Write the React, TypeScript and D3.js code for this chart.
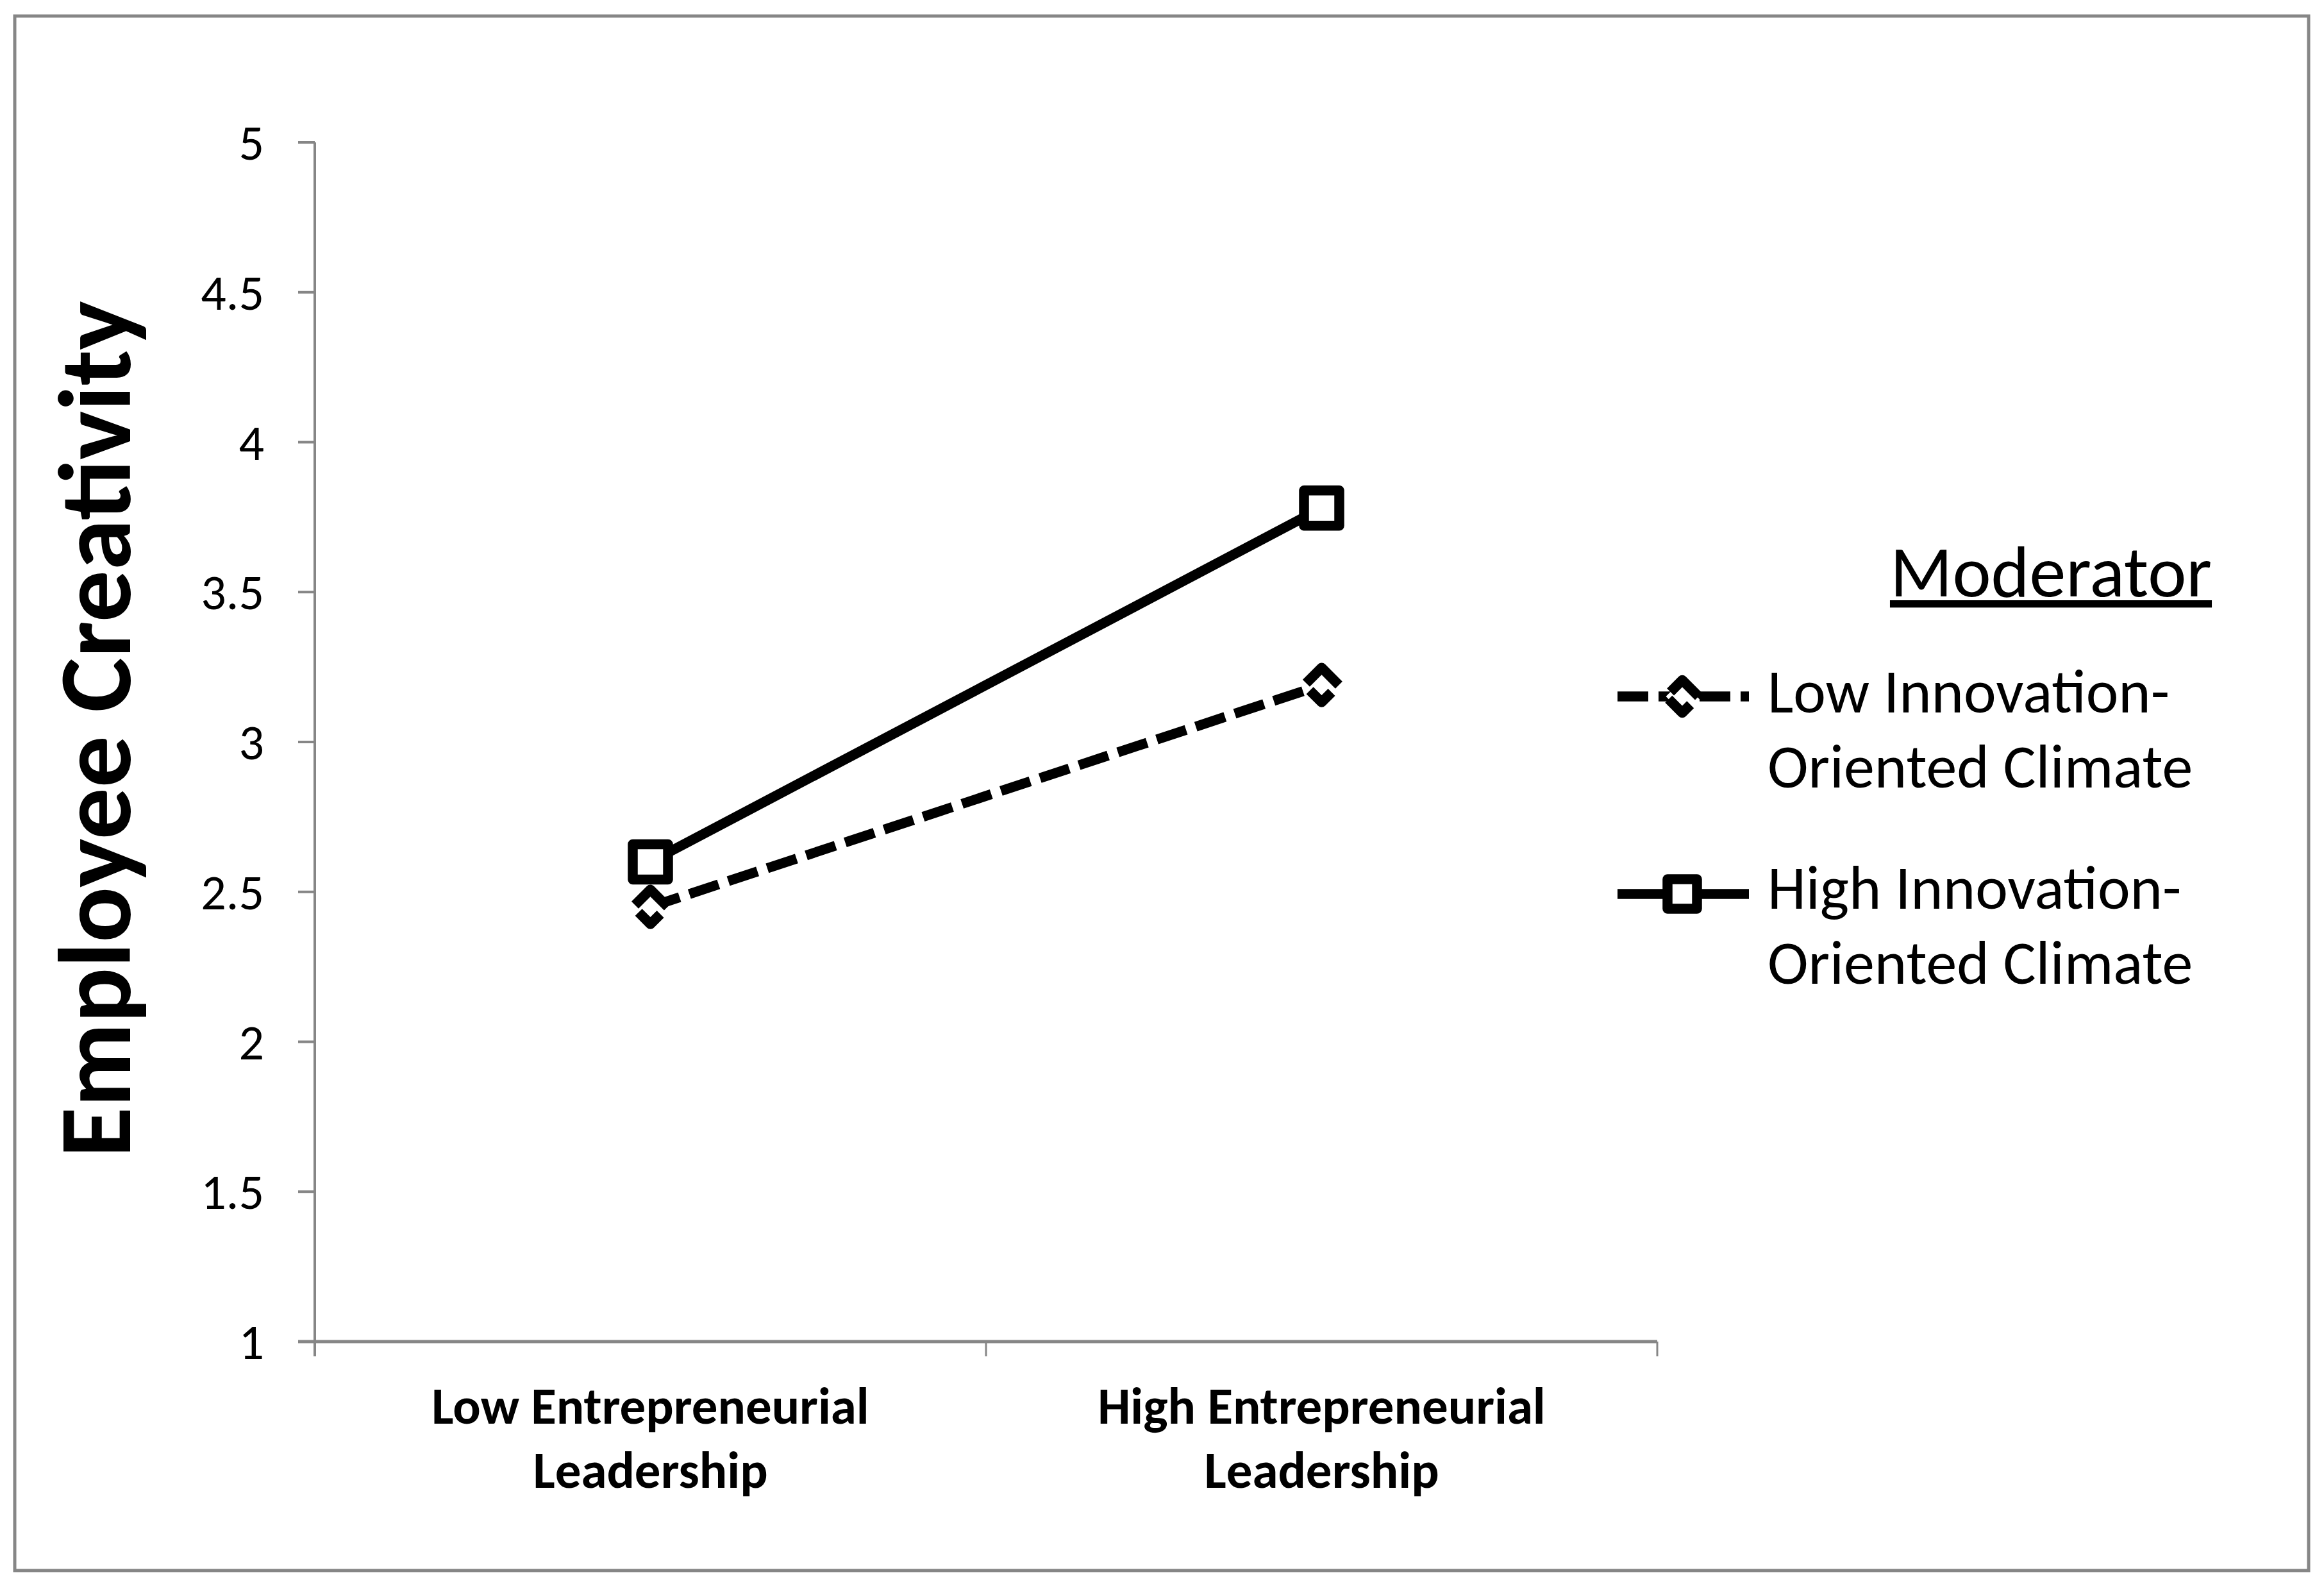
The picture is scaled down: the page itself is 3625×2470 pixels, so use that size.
import * as d3 from 'd3';
import React, { useMemo } from 'react';

const WIDTH = 3625;
const HEIGHT = 2470;

// plot area in page pixels
const BOUNDS = { left: 491, right: 2585, top: 222, bottom: 2092 };

const FONT = "Carlito, Calibri, Lato, 'Open Sans', sans-serif";
const AXIS_COLOR = '#868686';

const categories = ['Low Entrepreneurial Leadership', 'High Entrepreneurial Leadership'];
const categoryLines = [
  ['Low Entrepreneurial', 'Leadership'],
  ['High Entrepreneurial', 'Leadership'],
];
const lowClimate = [2.45, 3.19];
const highClimate = [2.6, 3.78];
const yTicks = [1, 1.5, 2, 2.5, 3, 3.5, 4, 4.5, 5];
const yTitle = 'Employee Creativity';
const legendTitle = 'Moderator';
const legendLabels = [
  ['Low Innovation-', 'Oriented Climate'],
  ['High Innovation-', 'Oriented Climate'],
];

const LINE_W = 15.5;
const DASH = '48 16';

export default function App() {
  const xScale = useMemo(
    () => d3.scaleBand().domain(categories).range([BOUNDS.left, BOUNDS.right]),
    []
  );
  const yScale = useMemo(
    () => d3.scaleLinear().domain([1, 5]).range([BOUNDS.bottom, BOUNDS.top]),
    []
  );

  const cx = (c: string) => (xScale(c) ?? 0) + xScale.bandwidth() / 2;

  const line = d3
    .line<number>()
    .x((_, i) => cx(categories[i]))
    .y(d => yScale(d));

  const squarePath = (side: number) => d3.symbol().type(d3.symbolSquare).size(side * side)() || '';

  // markers drawn at each point
  const diamonds = lowClimate.map((v, i) => (
    <path
      key={'d' + i}
      d={squarePath(38)}
      transform={`translate(${cx(categories[i])},${yScale(v)}) rotate(45)`}
      fill="white"
      stroke="black"
      strokeWidth={LINE_W}
      strokeDasharray={DASH}
      strokeDashoffset={10}
      strokeLinejoin="round"
    />
  ));

  const squares = highClimate.map((v, i) => (
    <path
      key={'s' + i}
      d={squarePath(55)}
      transform={`translate(${cx(categories[i])},${yScale(v)})`}
      fill="white"
      stroke="black"
      strokeWidth={LINE_W}
      strokeLinejoin="round"
    />
  ));

  const yAxis = yTicks.map(t => (
    <g key={t}>
      <line x1={BOUNDS.left - 26} x2={BOUNDS.left} y1={yScale(t)} y2={yScale(t)} stroke={AXIS_COLOR} strokeWidth={4} />
      <text x={412} y={yScale(t) + 27} textAnchor="end" fontSize={78} fontFamily={FONT} fill="black">
        {t}
      </text>
    </g>
  ));

  const xBoundaries = [...categories.map(c => xScale(c) ?? 0), BOUNDS.right];
  const xTicks = xBoundaries.map((x, i) => (
    <line key={i} x1={x} x2={x} y1={BOUNDS.bottom} y2={BOUNDS.bottom + 23} stroke={AXIS_COLOR} strokeWidth={3} />
  ));

  const xLabels = categories.map((c, i) => (
    <text key={c} x={cx(c)} textAnchor="middle" fontSize={81} fontWeight="bold" fontFamily={FONT} fill="black">
      {categoryLines[i].map((l, j) => (
        <tspan key={j} x={cx(c)} y={2220 + j * 100}>
          {l}
        </tspan>
      ))}
    </text>
  ));

  const legendY = [1086, 1394];
  const legendX0 = 2523;
  const legendX1 = 2728;
  const legendCx = 2624;

  return (
    <svg width={WIDTH} height={HEIGHT} style={{ position: 'absolute', left: 0, top: 0, background: 'white' }}>
      <rect x={0} y={0} width={WIDTH} height={HEIGHT} fill="white" />
      <rect x={23} y={25} width={3578} height={2424} fill="none" stroke={AXIS_COLOR} strokeWidth={5} />

      {/* axes */}
      <line x1={BOUNDS.left} x2={BOUNDS.left} y1={BOUNDS.top} y2={BOUNDS.bottom + 23} stroke={AXIS_COLOR} strokeWidth={4} />
      <line x1={BOUNDS.left - 26} x2={BOUNDS.right} y1={BOUNDS.bottom} y2={BOUNDS.bottom} stroke={AXIS_COLOR} strokeWidth={5} />
      {yAxis}
      {xTicks}
      {xLabels}

      <text
        transform={`translate(203,1137) rotate(-90)`}
        textAnchor="middle"
        fontSize={161}
        fontWeight="bold"
        fontFamily={FONT}
        fill="black"
      >
        {yTitle}
      </text>

      {/* series */}
      <path d={line(lowClimate) || ''} fill="none" stroke="black" strokeWidth={LINE_W} strokeDasharray={DASH} />
      <path d={line(highClimate) || ''} fill="none" stroke="black" strokeWidth={LINE_W} />
      {diamonds}
      {squares}

      {/* legend */}
      <text x={3199} y={930} textAnchor="middle" fontSize={114} fontFamily={FONT} fill="black" style={{ textDecoration: 'underline' }}>
        {legendTitle}
      </text>

      <line x1={legendX0} x2={legendX1} y1={legendY[0]} y2={legendY[0]} stroke="black" strokeWidth={LINE_W} strokeDasharray={DASH} />
      <path
        d={squarePath(36)}
        transform={`translate(${legendCx},${legendY[0]}) rotate(45)`}
        fill="white"
        stroke="black"
        strokeWidth={LINE_W}
        strokeDasharray={DASH}
        strokeDashoffset={10}
        strokeLinejoin="round"
      />
      <line x1={legendX0} x2={legendX1} y1={legendY[1]} y2={legendY[1]} stroke="black" strokeWidth={LINE_W} />
      <path
        d={squarePath(46)}
        transform={`translate(${legendCx},${legendY[1]})`}
        fill="white"
        stroke="black"
        strokeWidth={LINE_W}
        strokeLinejoin="round"
      />

      {legendLabels.map((lines, i) => (
        <text key={i} fontSize={96} fontFamily={FONT} fill="black">
          {lines.map((l, j) => (
            <tspan key={j} x={2757} y={[1111, 1417][i] + j * 117}>
              {l}
            </tspan>
          ))}
        </text>
      ))}
    </svg>
  );
}
